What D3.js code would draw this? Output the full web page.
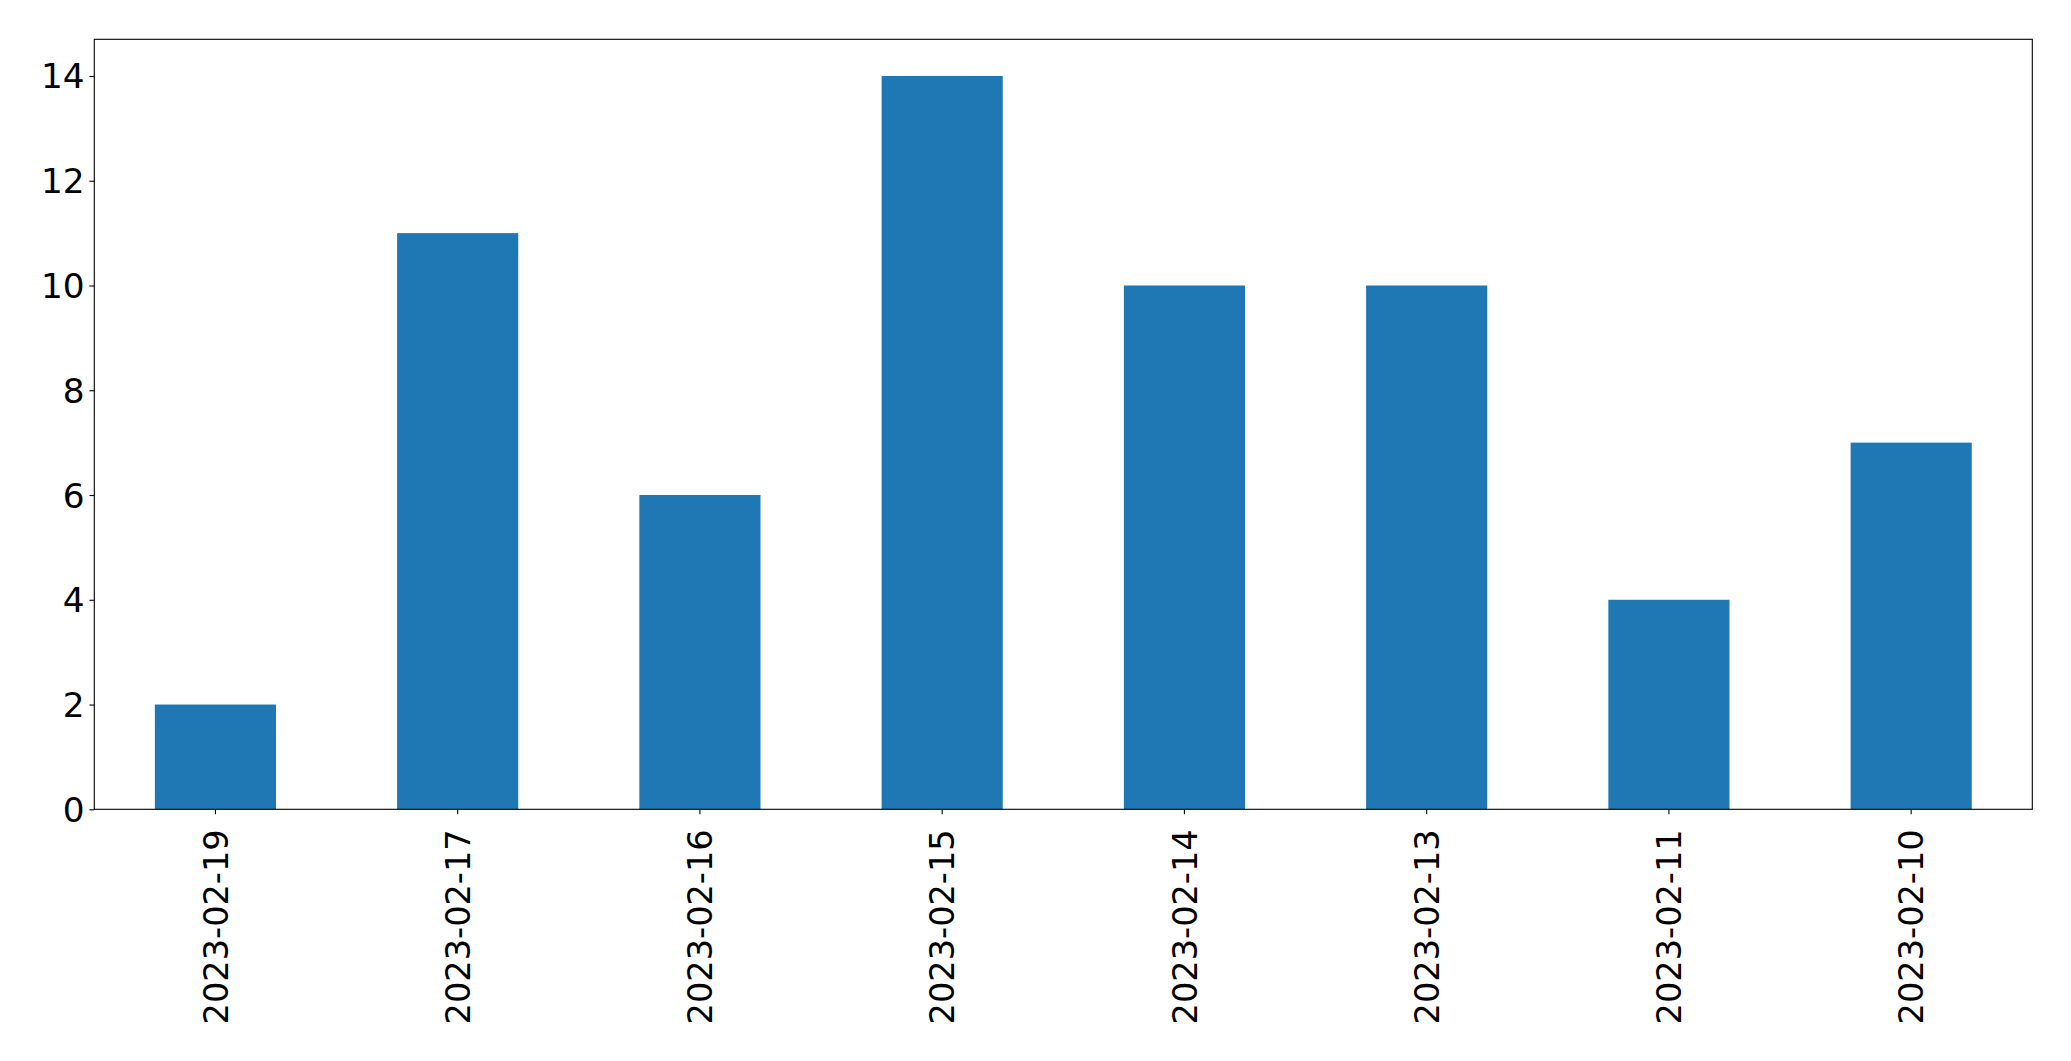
<!DOCTYPE html>
<html>
<head>
<meta charset="utf-8">
<script src="https://cdn.jsdelivr.net/npm/d3@7"></script>
<style>
html,body{margin:0;padding:0;background:#fff;}
svg{display:block;}
text{font-family:"DejaVu Sans",sans-serif;fill:#000;}
</style>
</head>
<body>
<svg id="chart" width="2071" height="1061"></svg>
<script>
const categories = ["2023-02-19","2023-02-17","2023-02-16","2023-02-15","2023-02-14","2023-02-13","2023-02-11","2023-02-10"];
const values = [2, 11, 6, 14, 10, 10, 4, 7];
const yTicks = [0, 2, 4, 6, 8, 10, 12, 14];

(function () {
const mLeft = 94.3, mRight = 2032.3, mTop = 39.3, mBottom = 809.3;
const fontSize = 34.3, xFontSize = 33.6;
const tickLen = 4.86, pad = 4.86;

const svg = d3.select("#chart");

const x = d3.scaleBand().domain(categories).range([mLeft, mRight]).paddingInner(0.5).paddingOuter(0.25);
const y = d3.scaleLinear().domain([0, 14 * 1.05]).range([mBottom, mTop]);

svg.append("g").selectAll("rect").data(values).join("rect")
  .attr("x", (d, i) => x(categories[i]))
  .attr("width", x.bandwidth())
  .attr("y", d => y(d))
  .attr("height", d => y(0) - y(d))
  .attr("fill", "#1f77b4");

const yAxis = d3.axisLeft(y).tickValues(yTicks).tickSize(tickLen).tickPadding(pad).tickFormat(d3.format("d"));
const gy = svg.append("g").attr("transform", `translate(${mLeft},0)`).call(yAxis);
gy.attr("font-family", null).attr("font-size", null);
gy.select(".domain").remove();
gy.selectAll("line").attr("stroke", "#000").attr("stroke-width", 1.1);
gy.selectAll("text").style("font-size", fontSize + "px").attr("dy", "0.35em");

const xAxis = d3.axisBottom(x).tickSize(tickLen).tickPadding(pad);
const gx = svg.append("g").attr("transform", `translate(0,${mBottom})`).call(xAxis);
gx.attr("font-family", null).attr("font-size", null);
gx.select(".domain").remove();
gx.selectAll("line").attr("stroke", "#000").attr("stroke-width", 1.1);
gx.selectAll("text")
  .style("font-size", xFontSize + "px")
  .attr("text-anchor", "end")
  .attr("y", 0).attr("x", 0)
  .attr("dy", "0.36em")
  .attr("transform", "translate(0,20) rotate(-90)");

svg.append("rect").attr("x", mLeft).attr("y", mTop).attr("width", mRight - mLeft).attr("height", mBottom - mTop)
  .attr("fill", "none").attr("stroke", "#000").attr("stroke-width", 1.1);
})();
</script>
</body>
</html>
